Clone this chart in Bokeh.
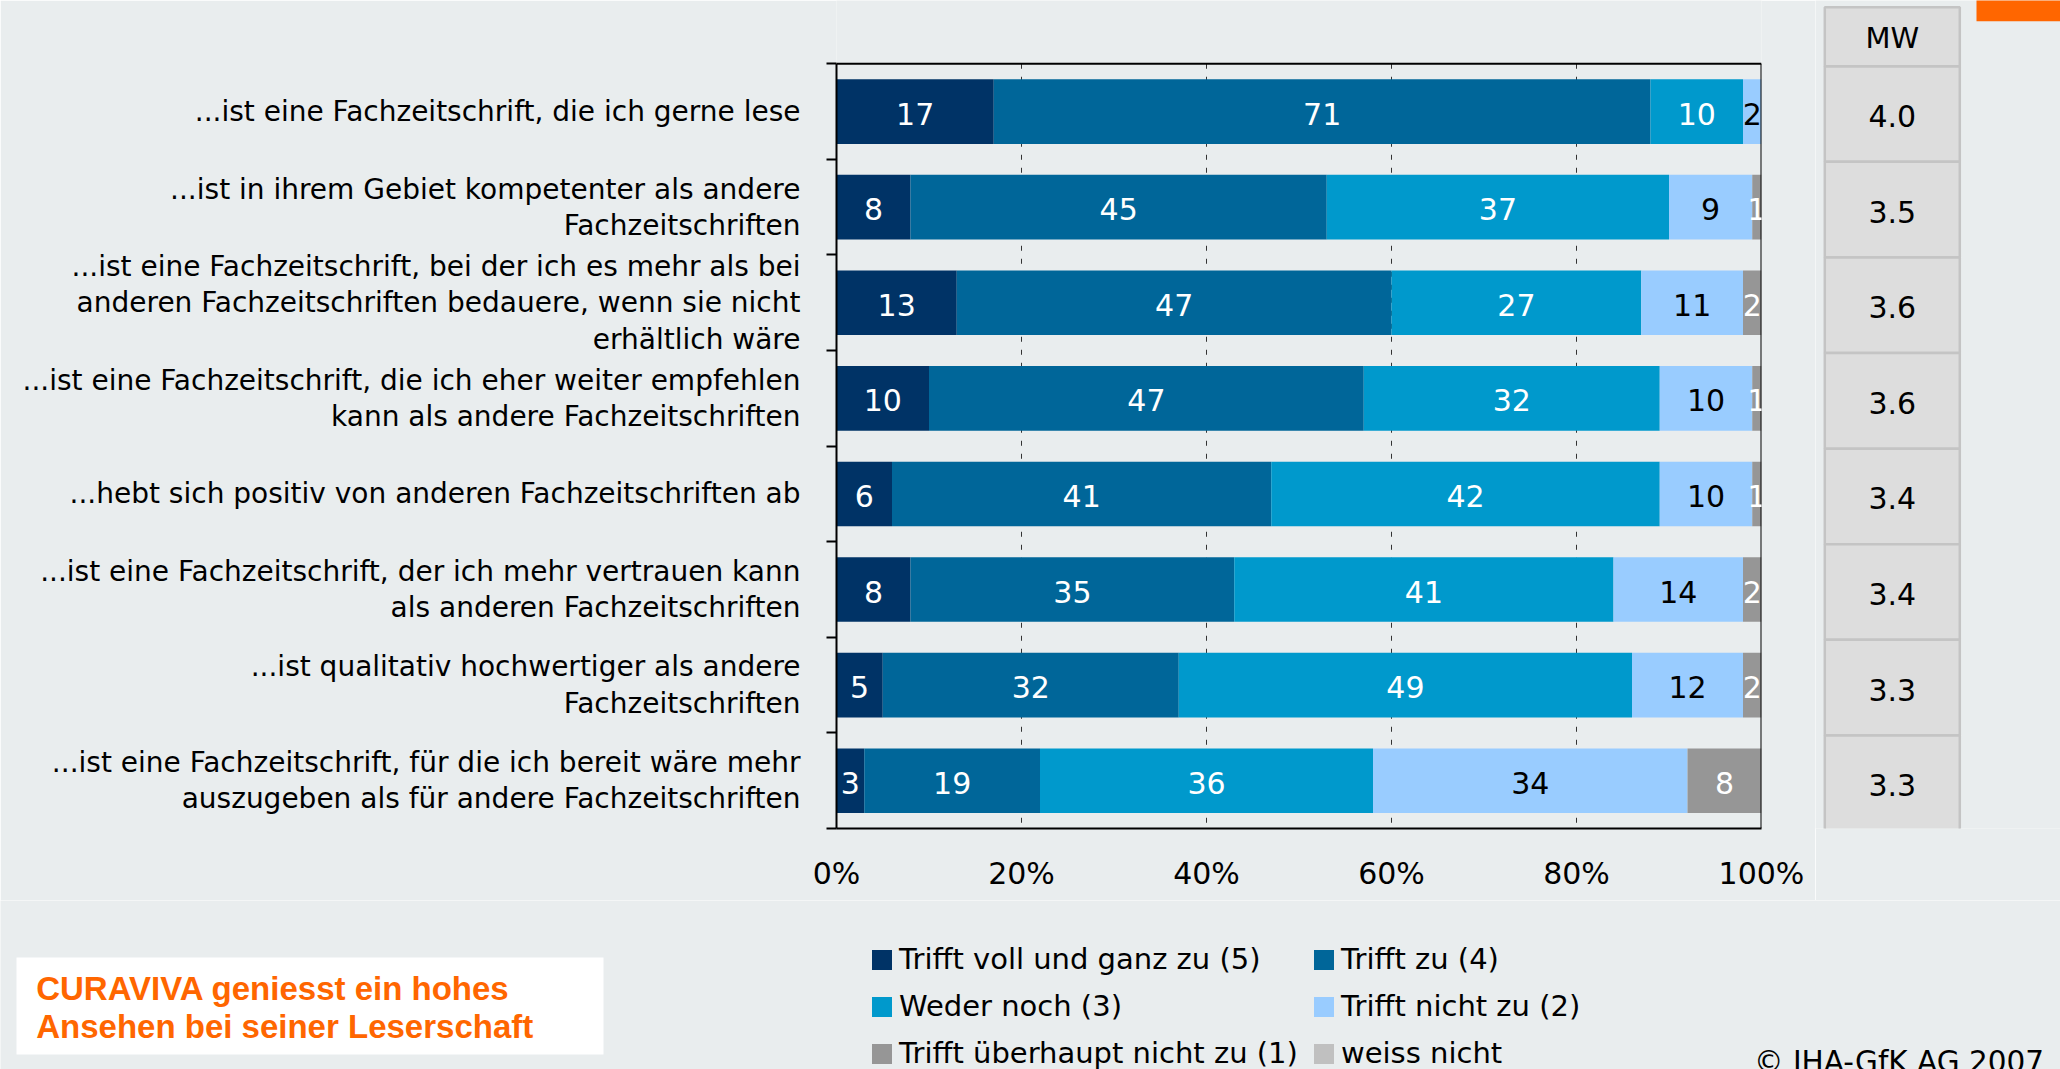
from bokeh.plotting import figure
from bokeh.models import (Range1d, FixedTicker, PrintfTickFormatter, ColumnDataSource,
                          Legend, LegendItem)
from bokeh.layouts import column, row
from bokeh.core.properties import value
from bokeh.embed import file_html
from bokeh.resources import INLINE

# ---------------- data ----------------
statements = [
    "...ist eine Fachzeitschrift, die ich gerne lese",
    "...ist in ihrem Gebiet kompetenter als andere\nFachzeitschriften",
    "...ist eine Fachzeitschrift, bei der ich es mehr als bei\nanderen Fachzeitschriften bedauere, wenn sie nicht\nerhältlich wäre",
    "...ist eine Fachzeitschrift, die ich eher weiter empfehlen\nkann als andere Fachzeitschriften",
    "...hebt sich positiv von anderen Fachzeitschriften ab",
    "...ist eine Fachzeitschrift, der ich mehr vertrauen kann\nals anderen Fachzeitschriften",
    "...ist qualitativ hochwertiger als andere\nFachzeitschriften",
    "...ist eine Fachzeitschrift, für die ich bereit wäre mehr\nauszugeben als für andere Fachzeitschriften",
]
voll_und_ganz = [17, 8, 13, 10, 6, 8, 5, 3]
trifft_zu = [71, 45, 47, 47, 41, 35, 32, 19]
weder_noch = [10, 37, 27, 32, 42, 41, 49, 36]
trifft_nicht_zu = [2, 9, 11, 10, 10, 14, 12, 34]
ueberhaupt_nicht = [0, 1, 2, 1, 1, 2, 2, 8]
weiss_nicht = [0, 0, 0, 0, 0, 0, 0, 0]
mittelwert = [4.0, 3.5, 3.6, 3.6, 3.4, 3.4, 3.3, 3.3]

series_names = ["Trifft voll und ganz zu (5)", "Trifft zu (4)", "Weder noch (3)",
                "Trifft nicht zu (2)", "Trifft überhaupt nicht zu (1)", "weiss nicht"]
series_values = [voll_und_ganz, trifft_zu, weder_noch, trifft_nicht_zu, ueberhaupt_nicht, weiss_nicht]
series_colors = ["#003366", "#006699", "#0099CC", "#99CCFF", "#969696", "#C0C0C0"]
label_colors = ["white", "white", "white", "black", "white", "black"]
x_ticks = [0, 20, 40, 60, 80, 100]
grid_ticks = [20, 40, 60, 80]
title_lines = ["CURAVIVA geniesst ein hohes", "Ansehen bei seiner Leserschaft"]
copyright_text = "© IHA-GfK AG 2007"

BG = "#E9EDEE"
FONT = "DejaVu Sans"

# ---------------- main bar chart ----------------
n = len(statements)
centers = [i + 0.5 for i in range(n)]
bounds = list(range(n + 1))
TOP = -0.662   # space above the bars (for the MW header row)

p = figure(width=1815, height=900, x_range=Range1d(0, 100), y_range=Range1d(n, TOP),
           output_backend="svg", toolbar_location=None,
           min_border_left=836, min_border_right=54, min_border_top=0, min_border_bottom=72)
p.background_fill_color = BG
p.border_fill_color = BG
p.outline_line_color = None
p.grid.visible = False

# dashed grid lines inside the bar area
p.segment(x0=grid_ticks, y0=[0] * len(grid_ticks), x1=grid_ticks, y1=[n] * len(grid_ticks),
          line_color="#333333", line_width=1, line_dash="5 8")

keys = ["s%d" % i for i in range(len(series_values))]
data = {"y": centers}
for k, v in zip(keys, series_values):
    data[k] = v
src = ColumnDataSource(data)
p.hbar_stack(keys, y="y", height=0.676, color=series_colors, line_width=0, source=src)

# frame borders (top and right)
p.segment(x0=[0, 100], y0=[0, 0], x1=[100, 100], y1=[0, n], line_color="black", line_width=2)

# segment labels
tx, ty, tt, tc = [], [], [], []
for r in range(n):
    left = 0
    for si, vals in enumerate(series_values):
        v = vals[r]
        if v > 0:
            tx.append(left + v / 2)
            ty.append(centers[r])
            tt.append(str(v))
            tc.append(label_colors[si])
        left += v
p.text(x=tx, y=ty, text=tt, text_color=tc, text_align="center", text_baseline="middle",
       text_font=value(FONT), text_font_size="30px", y_offset=2)

# x axis
p.xaxis.ticker = FixedTicker(ticks=x_ticks)
p.xaxis.formatter = PrintfTickFormatter(format="%d%%")
p.xaxis.axis_line_color = "black"
p.xaxis.axis_line_width = 2
p.xaxis.major_tick_line_color = None
p.xaxis.major_tick_out = 0
p.xaxis.major_tick_in = 0
p.xaxis.minor_tick_line_color = None
p.xaxis.major_label_standoff = 27
p.xaxis.major_label_text_font = FONT
p.xaxis.major_label_text_font_size = "30px"
p.xaxis.major_label_text_color = "black"

# y axis
p.yaxis.bounds = (0, n)
p.yaxis.ticker = FixedTicker(ticks=centers, minor_ticks=bounds)
p.yaxis.major_label_overrides = {c: s for c, s in zip(centers, statements)}
p.yaxis.axis_line_color = "black"
p.yaxis.axis_line_width = 2
p.yaxis.major_tick_line_color = None
p.yaxis.major_tick_out = 0
p.yaxis.major_tick_in = 0
p.yaxis.minor_tick_line_color = "black"
p.yaxis.minor_tick_line_width = 2
p.yaxis.minor_tick_out = 10
p.yaxis.minor_tick_in = 0
p.yaxis.major_label_standoff = 26
p.yaxis.major_label_text_font = FONT
p.yaxis.major_label_text_font_size = "28px"
p.yaxis.major_label_text_color = "black"
p.yaxis.major_label_text_line_height = 1.1

# ---------------- MW column ----------------
D = 0.026  # table sits slightly lower than the bars
s = figure(width=245, height=900, x_range=Range1d(1815, 2060), y_range=Range1d(n - D, TOP - D),
           output_backend="svg", toolbar_location=None,
           min_border_left=0, min_border_right=0, min_border_top=0, min_border_bottom=72,
           x_axis_location=None, y_axis_location=None)
s.background_fill_color = BG
s.border_fill_color = BG
s.outline_line_color = None
s.grid.visible = False
s.rect(x=1891.8, y=centers, width=135, height=1, fill_color="#DDDDDD",
       line_color="#C4C4C4", line_width=2.5)
s.rect(x=1891.8, y=-0.309, width=135, height=0.618, fill_color="#DDDDDD",
       line_color="#C4C4C4", line_width=2.5)
s.text(x=[1891.8] * n, y=centers, text=["%.1f" % m for m in mittelwert], text_align="center",
       text_baseline="middle", text_font=value(FONT), text_font_size="30px",
       text_color="black", y_offset=2)
s.text(x=[1891.8], y=[-0.296], text=["MW"], text_align="center", text_baseline="middle",
       text_font=value(FONT), text_font_size="29px", text_color="black")
s.quad(left=[1976], right=[2070], top=[-0.8], bottom=[-0.471], fill_color="#FF6600", line_color=None)

# ---------------- bottom strip ----------------
b = figure(width=2060, height=169, x_range=Range1d(0, 2060), y_range=Range1d(1069, 900),
           output_backend="svg", toolbar_location=None, min_border=0,
           x_axis_location=None, y_axis_location=None)
b.background_fill_color = BG
b.border_fill_color = BG
b.outline_line_color = None
b.grid.visible = False

b.quad(left=[16], right=[603], top=[957], bottom=[1054], fill_color="white", line_color=None)
b.text(x=[35.7, 35.7], y=[988, 1026], text=title_lines,
       text_align="left", text_baseline="middle", text_font=value("Liberation Sans"),
       text_font_style="bold", text_font_size="33px", text_color="#FF6600")
b.text(x=[2043.5], y=[1061], text=[copyright_text], text_align="right",
       text_baseline="middle", text_font=value(FONT), text_font_size="29.5px",
       text_color="black")

items = []
for name, col in zip(series_names, series_colors):
    r = b.rect(x=[-500], y=[-500], width=1, height=1, fill_color=col, line_color=None)
    items.append(LegendItem(label=name, renderers=[r]))


def make_legend(its, loc):
    return Legend(items=its, location=loc, orientation="vertical", glyph_width=25, glyph_height=25,
                  label_standoff=5, spacing=11, padding=0, margin=0, label_height=36,
                  background_fill_alpha=0, border_line_color=None,
                  label_text_font=FONT, label_text_font_size="29px", label_text_color="black")


b.add_layout(make_legend([items[0], items[2], items[4]], (869, -2)))
b.add_layout(make_legend([items[1], items[3], items[5]], (1311, -2)))

layout = column(row(p, s), b)
open("out.html", "w").write(file_html(layout, INLINE))
